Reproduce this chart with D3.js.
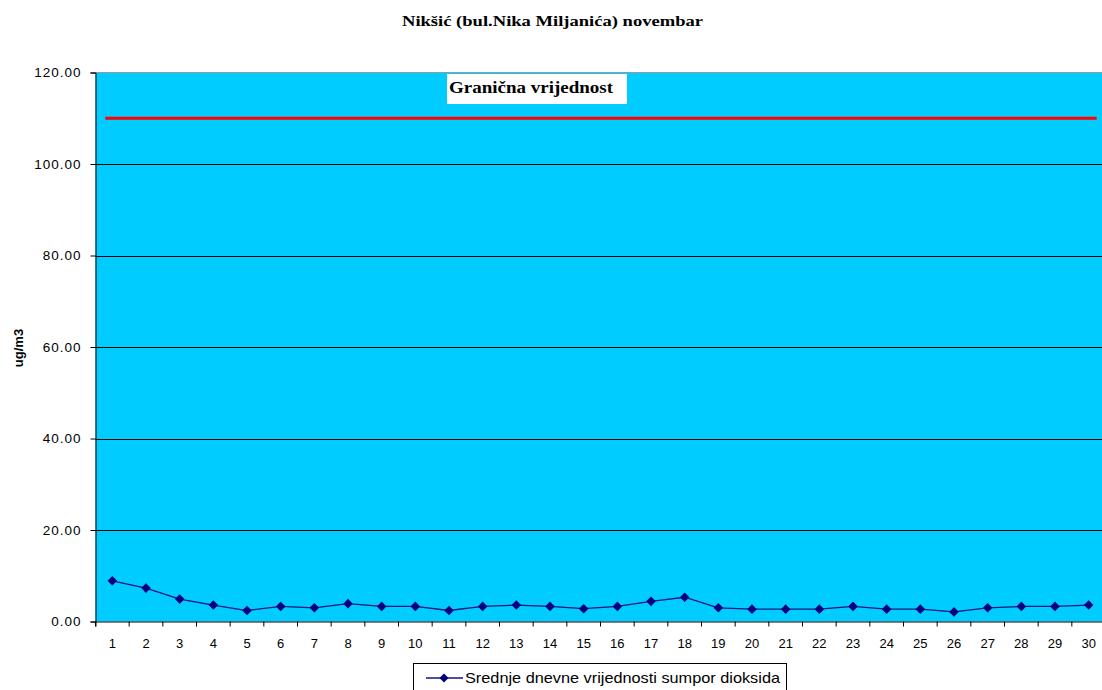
<!DOCTYPE html>
<html><head><meta charset="utf-8">
<script src="https://cdn.jsdelivr.net/npm/d3@7"></script>
<style>
html,body{margin:0;padding:0;background:#fff;overflow:hidden}
svg{display:block}
</style></head>
<body>
<script>
const days = ["1","2","3","4","5","6","7","8","9","10","11","12","13","14","15","16","17","18","19","20","21","22","23","24","25","26","27","28","29","30"];
const so2Values = [8.9,7.3,4.9,3.6,2.4,3.3,3.0,3.9,3.3,3.3,2.4,3.3,3.6,3.3,2.8,3.3,4.4,5.3,3.0,2.7,2.7,2.7,3.3,2.7,2.7,2.1,3.0,3.3,3.3,3.6];
const limitValue = 110;
const yTicks = [0,20,40,60,80,100,120];
const titleText = "Nikšić (bul.Nika Miljanića) novembar";
const limitLabel = "Granična vrijednost";
const legendLabel = "Srednje dnevne vrijednosti sumpor dioksida";
const yAxisLabel = "ug/m3";

const W = 1102, H = 690;
const plot = {left: 95.5, top: 72.5, right: 1105.5, bottom: 621.5};

const svg = d3.select("body").append("svg").attr("width", W).attr("height", H);

const x = d3.scaleBand().domain(days).range([plot.left, plot.right]).padding(0);
const y = d3.scaleLinear().domain([0,120]).range([plot.bottom, plot.top]);

// plot background
svg.append("rect").attr("x", plot.left).attr("y", plot.top)
  .attr("width", plot.right - plot.left).attr("height", plot.bottom - plot.top)
  .attr("fill", "#00CCFF");
// top border gray
svg.append("line").attr("x1", plot.left).attr("x2", plot.right).attr("y1", y(120)).attr("y2", y(120))
  .attr("stroke", "#999").attr("stroke-width", 1);

// gridlines
svg.append("g").selectAll("line").data(yTicks.filter(d => d > 0 && d < 120)).join("line")
  .attr("x1", plot.left).attr("x2", plot.right)
  .attr("y1", d => Math.round(y(d)) + 0.5).attr("y2", d => Math.round(y(d)) + 0.5)
  .attr("stroke", "#000").attr("stroke-width", 1);

// y axis
const yAxis = d3.axisLeft(y).tickValues(yTicks).tickFormat(d3.format(".2f")).tickSize(5).tickPadding(9);
const gy = svg.append("g").attr("transform", `translate(${plot.left},0)`).call(yAxis);
gy.select(".domain").attr("stroke", "#000");
gy.selectAll(".tick line").attr("stroke", "#000");
gy.selectAll("text").attr("font-family", "Liberation Sans, Arial, sans-serif").attr("font-size", 13.5)
  .attr("letter-spacing", "1px").attr("fill", "#000");

// x axis
const xAxis = d3.axisBottom(x).tickSize(5).tickPadding(12);
const gx = svg.append("g").attr("transform", `translate(0,${plot.bottom})`).call(xAxis);
gx.select(".domain").attr("stroke", "#000");
gx.selectAll(".tick line").attr("transform", `translate(${-x.bandwidth()/2},0)`).attr("stroke", "#000");
gx.selectAll("text").attr("font-family", "Liberation Sans, Arial, sans-serif").attr("font-size", 13).attr("fill", "#000");
gx.append("line").attr("x1", plot.right).attr("x2", plot.right).attr("y1", 0).attr("y2", 5).attr("stroke", "#000");

// limit line
const cx = d => x(d) + x.bandwidth()/2;
svg.append("line")
  .attr("x1", cx(days[0]) - 7).attr("x2", cx(days[days.length-1]) + 8)
  .attr("y1", y(limitValue)).attr("y2", y(limitValue))
  .attr("stroke", "#FF0000").attr("stroke-width", 3);

// limit label box
const lbl = svg.append("g");
lbl.append("rect").attr("x", 447).attr("y", 74).attr("width", 180).attr("height", 30).attr("fill", "#fff");
lbl.append("text").attr("x", 449).attr("y", 93)
  .attr("font-family", "Liberation Serif, Times New Roman, serif").attr("font-weight", "bold").attr("font-size", 17)
  .attr("textLength", 164).attr("lengthAdjust", "spacingAndGlyphs")
  .attr("fill", "#000").text(limitLabel);

// series line
const line = d3.line().x((d,i) => cx(days[i])).y(d => y(d));
svg.append("path").datum(so2Values).attr("d", line)
  .attr("fill", "none").attr("stroke", "#14147a").attr("stroke-width", 1.3);
svg.append("g").selectAll("path").data(so2Values).join("path")
  .attr("d", d3.symbol().type(d3.symbolSquare).size(46))
  .attr("transform", (d,i) => `translate(${cx(days[i])},${y(d)}) rotate(45)`)
  .attr("fill", "#000080");

// title
svg.append("text").attr("x", 402).attr("y", 25.5)
  .attr("font-family", "Liberation Serif, Times New Roman, serif").attr("font-weight", "bold").attr("font-size", 15)
  .attr("textLength", 301).attr("lengthAdjust", "spacingAndGlyphs")
  .attr("fill", "#000").text(titleText);

// y axis label
svg.append("text").attr("transform", "translate(23,348) rotate(-90)").attr("text-anchor", "middle")
  .attr("font-family", "Liberation Sans, Arial, sans-serif").attr("font-weight", "bold").attr("font-size", 13)
  .attr("fill", "#000").text(yAxisLabel);

// legend
const lg = svg.append("g");
lg.append("rect").attr("x", 413.5).attr("y", 663.5).attr("width", 373).attr("height", 40)
  .attr("fill", "#fff").attr("stroke", "#000").attr("stroke-width", 1);
lg.append("line").attr("x1", 426).attr("x2", 463).attr("y1", 678).attr("y2", 678)
  .attr("stroke", "#14147a").attr("stroke-width", 1.3);
lg.append("path").attr("d", d3.symbol().type(d3.symbolSquare).size(40))
  .attr("transform", "translate(444,678) rotate(45)").attr("fill", "#000080");
lg.append("text").attr("x", 465).attr("y", 683)
  .attr("font-family", "Liberation Sans, Arial, sans-serif").attr("font-size", 15)
  .attr("textLength", 315).attr("lengthAdjust", "spacingAndGlyphs")
  .attr("fill", "#000").text(legendLabel);
</script>
</body></html>
